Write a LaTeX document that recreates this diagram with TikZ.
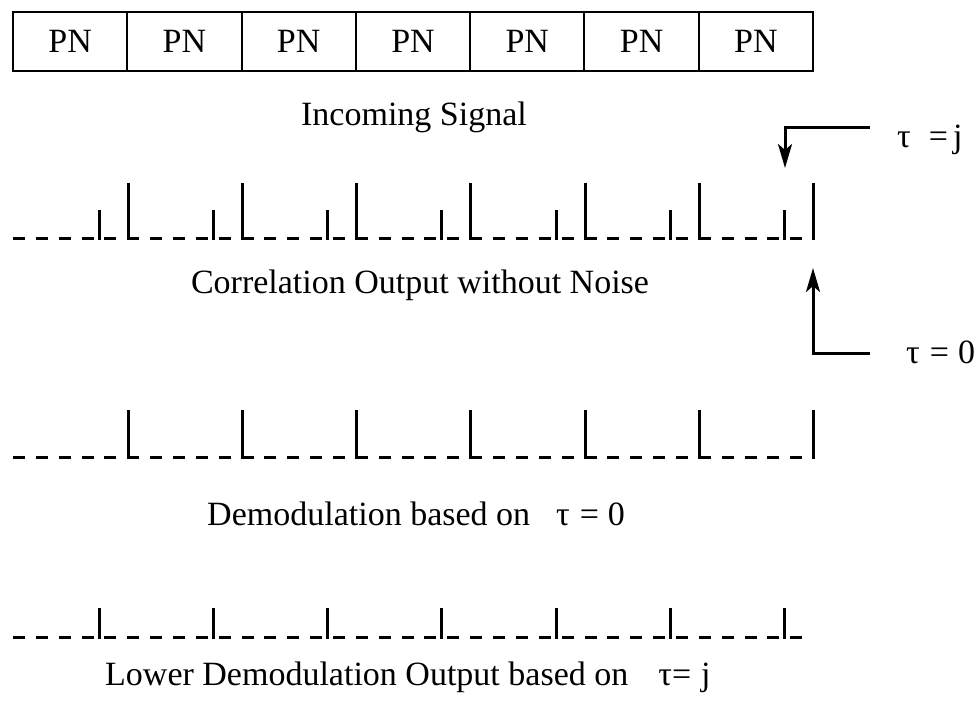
\documentclass[tikz,border=0pt]{standalone}
\usepackage{fontspec}
\setmainfont{Liberation Serif}
\usetikzlibrary{arrows.meta}
\begin{document}
\begin{tikzpicture}[x=1pt,y=-1pt,
  baseline dash/.style={line width=3pt, dash pattern=on 12pt off 10.86pt},
  spike/.style={line width=3pt},
  cell/.style={draw, line width=2pt, minimum width=114.29pt, minimum height=59pt,
               inner sep=0pt, outer sep=0pt, font=\fontsize{34}{40}\selectfont},
  lbl/.style={font=\fontsize{34}{40}\selectfont, inner sep=0pt, anchor=base},
  pointer/.style={line width=3pt, -{Stealth[length=24pt,width=14pt,inset=6pt]}}
]
\useasboundingbox (0,0) rectangle (977,701);

% incoming PN frame
\foreach \k in {0,...,6}{
  \node[cell] (pn\k) at ({13+114.29*(\k+0.5)},41.5) {PN};
}
\node[lbl] (incoming) at (414,125) {Incoming Signal};

% correlation output: main peaks and side peaks
\draw[baseline dash] (13,238) -- (813,238);
\foreach \k in {0,...,6}{
  \draw[spike] ({128+114.29*\k},239.5) -- ({128+114.29*\k},183);
  \draw[spike] ({99+114.29*\k},239.5) -- ({99+114.29*\k},210);
}
\node[lbl] (corr) at (420,293) {Correlation Output without Noise};

% timing pointers
\coordinate (jfrom) at (870,127);
\coordinate (jto) at (785,168);
\draw[pointer] (jfrom) -| (jto);
\node[lbl, anchor=base west] (tauj) at (897,147) {τ\hspace{18pt}=\hspace{5pt}j};

\coordinate (zfrom) at (870,353);
\coordinate (zto) at (813,268);
\draw[pointer] (zfrom) -| (zto);
\node[lbl, anchor=base west] (tau0) at (906,363) {τ\hspace{10pt}=\hspace{9pt}0};

% demodulation at tau = 0
\draw[baseline dash] (13,457) -- (813,457);
\foreach \k in {0,...,6}{
  \draw[spike] ({128+114.29*\k},458.5) -- ({128+114.29*\k},410);
}
\node[lbl, anchor=base west] (demod) at (207,525) {Demodulation based on\hspace{26pt}τ\hspace{10pt}=\hspace{9pt}0};

% demodulation at tau = j
\draw[baseline dash] (13,637) -- (803,637);
\foreach \k in {0,...,6}{
  \draw[spike] ({99+114.29*\k},638.5) -- ({99+114.29*\k},608);
}
\node[lbl, anchor=base west] (lower) at (105,685) {Lower Demodulation Output based on\hspace{30pt}τ=\hspace{10pt}j};
\end{tikzpicture}
\end{document}
